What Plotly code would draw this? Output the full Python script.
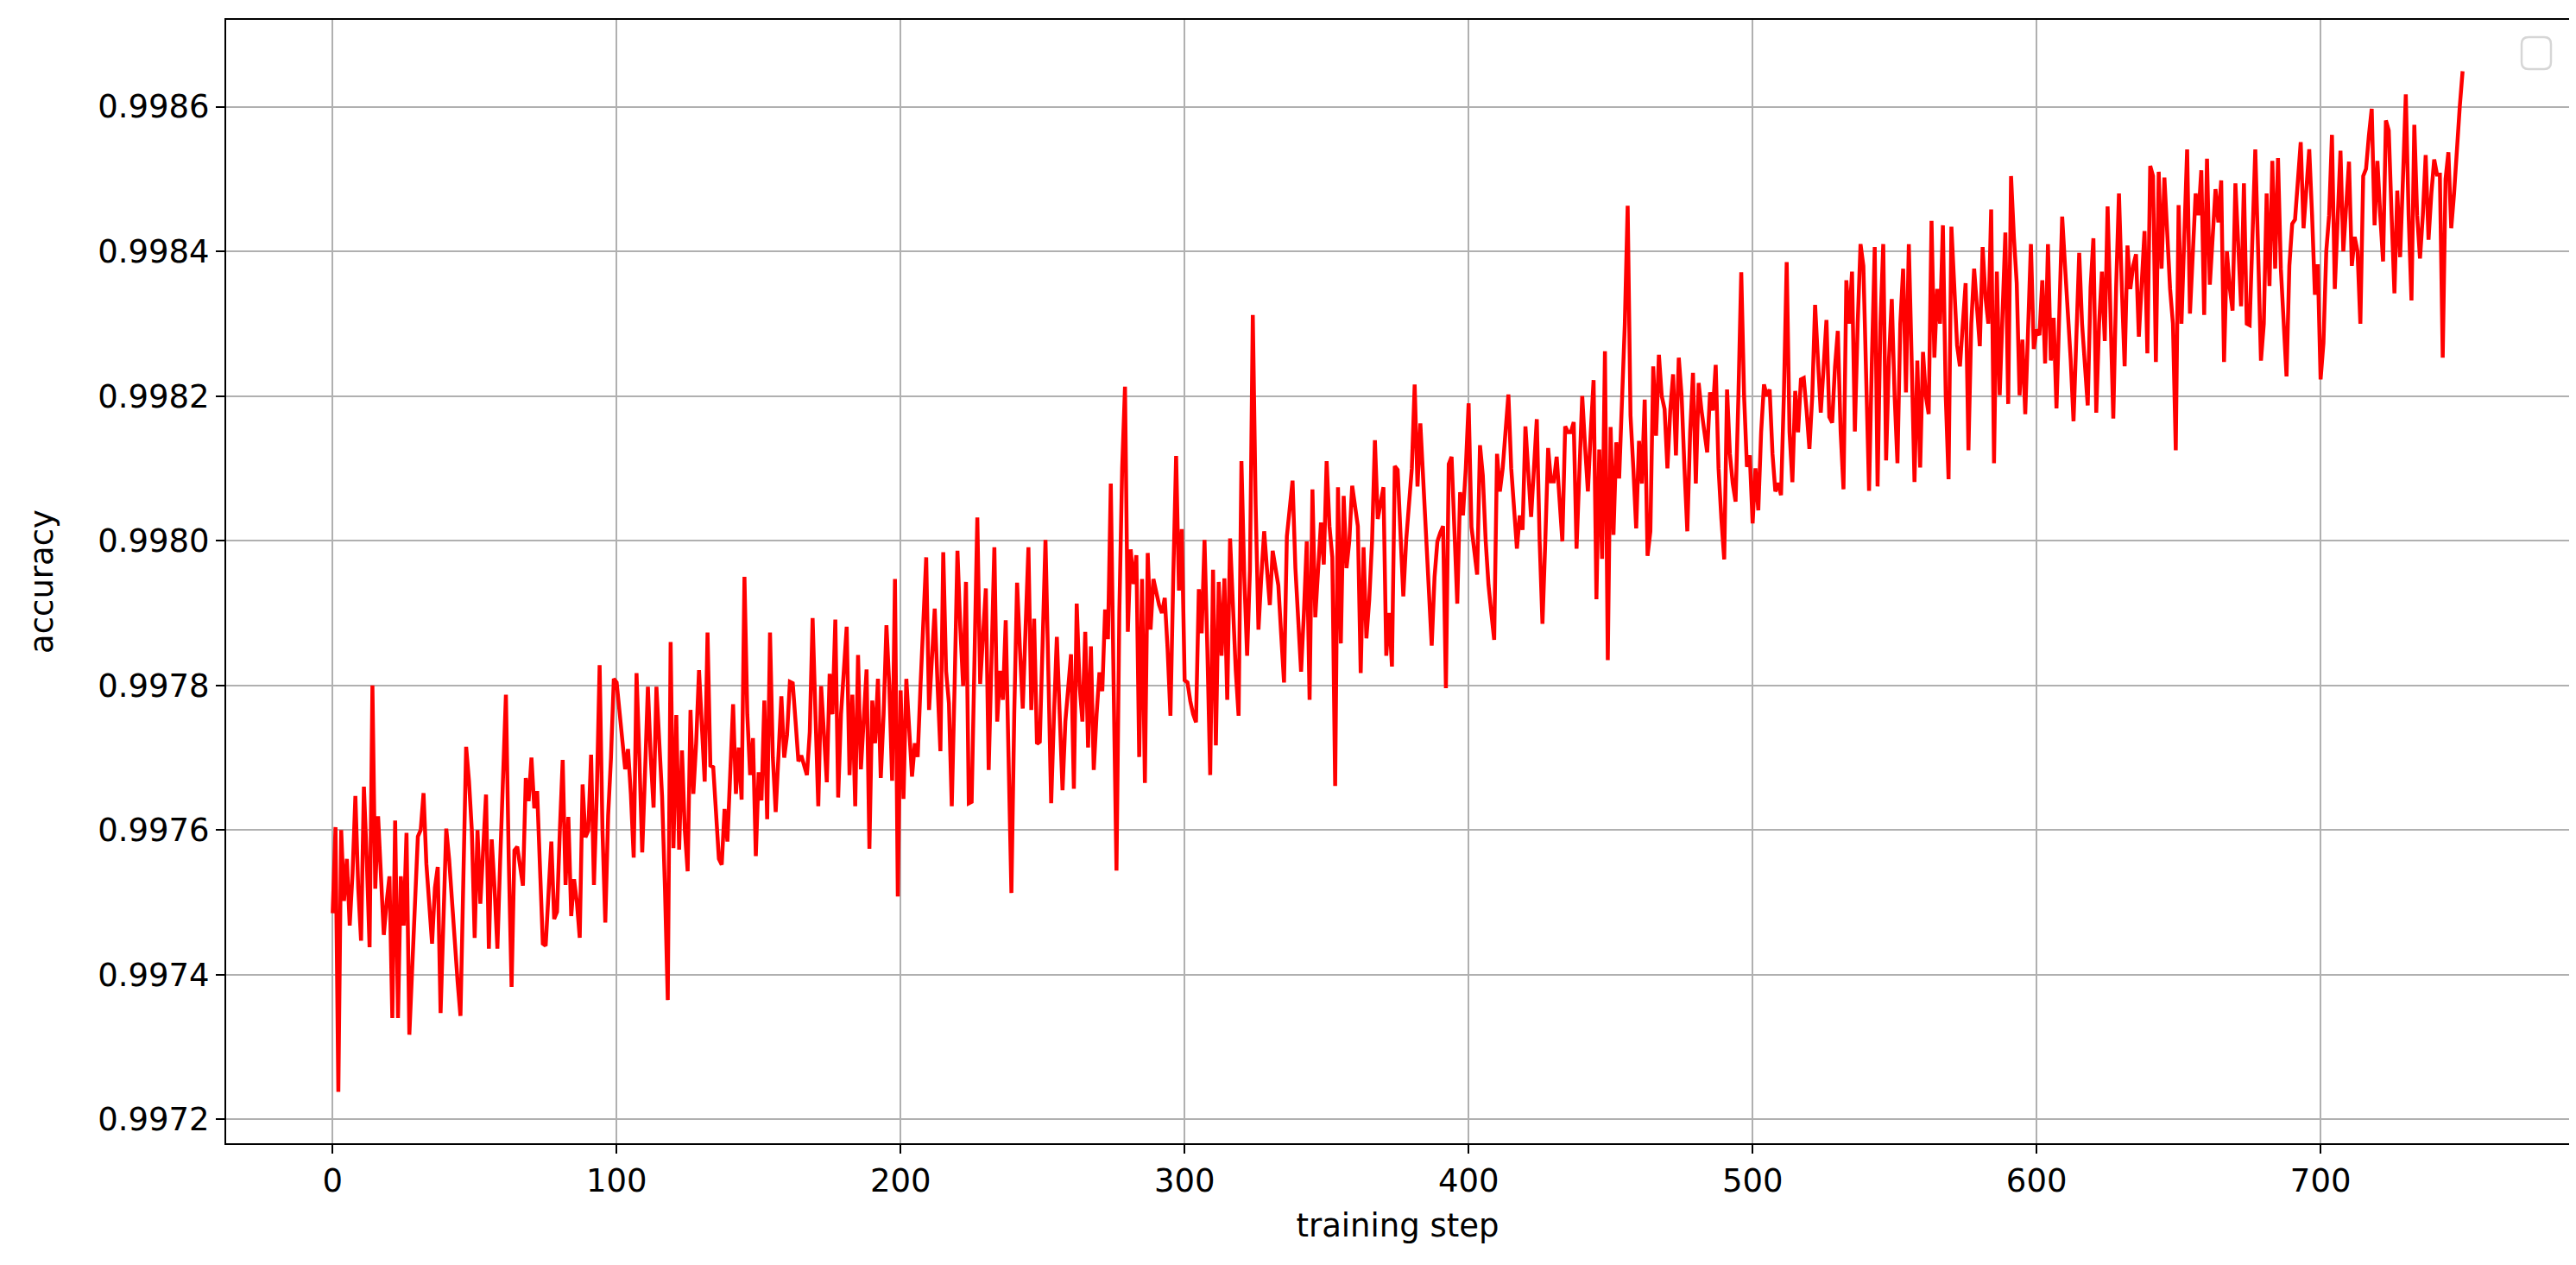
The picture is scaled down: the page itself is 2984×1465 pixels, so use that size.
import plotly.graph_objects as go

# accuracy per training step, split in consecutive parts
acc_part01 = [  # steps 0-71
    0.997485, 0.997604, 0.997238, 0.997600, 0.997502, 0.997560, 0.997468, 0.997540, 0.997647, 0.997520,
    0.997447, 0.997660, 0.997560, 0.997438, 0.997800, 0.997519, 0.997619, 0.997540, 0.997455, 0.997500,
    0.997536, 0.997340, 0.997613, 0.997340, 0.997536, 0.997468, 0.997596, 0.997317, 0.997420, 0.997520,
    0.997591, 0.997600, 0.997651, 0.997553, 0.997500, 0.997443, 0.997520, 0.997549, 0.997347, 0.997480,
    0.997602, 0.997560, 0.997500, 0.997440, 0.997390, 0.997343, 0.997560, 0.997715, 0.997668, 0.997600,
    0.997451, 0.997600, 0.997498, 0.997580, 0.997649, 0.997436, 0.997587, 0.997520, 0.997436, 0.997560,
    0.997660, 0.997787, 0.997560, 0.997383, 0.997572, 0.997577, 0.997550, 0.997523, 0.997672, 0.997640,
    0.997700, 0.997630,
]
acc_part02 = [  # steps 72-150
    0.997654, 0.997560, 0.997443, 0.997440, 0.997520, 0.997584, 0.997477, 0.997487, 0.997600, 0.997697,
    0.997524, 0.997618, 0.997481, 0.997532, 0.997500, 0.997451, 0.997663, 0.997590, 0.997599, 0.997704,
    0.997524, 0.997650, 0.997828, 0.997600, 0.997472, 0.997620, 0.997700, 0.997809, 0.997804, 0.997760,
    0.997727, 0.997684, 0.997712, 0.997650, 0.997562, 0.997817, 0.997700, 0.997569, 0.997680, 0.997798,
    0.997700, 0.997631, 0.997798, 0.997720, 0.997646, 0.997520, 0.997365, 0.997860, 0.997575, 0.997759,
    0.997573, 0.997710, 0.997600, 0.997543, 0.997766, 0.997650, 0.997720, 0.997821, 0.997740, 0.997667,
    0.997873, 0.997689, 0.997687, 0.997620, 0.997560, 0.997552, 0.997629, 0.997584, 0.997680, 0.997774,
    0.997650, 0.997714, 0.997642, 0.997950, 0.997760, 0.997676, 0.997727, 0.997564, 0.997680,
]
acc_part03 = [  # steps 151-224
    0.997641, 0.997779, 0.997615, 0.997873, 0.997700, 0.997625, 0.997720, 0.997785, 0.997700, 0.997732,
    0.997805, 0.997803, 0.997750, 0.997695, 0.997703, 0.997690, 0.997676, 0.997736, 0.997893, 0.997760,
    0.997633, 0.997799, 0.997720, 0.997666, 0.997816, 0.997760, 0.997891, 0.997645, 0.997760, 0.997830,
    0.997881, 0.997676, 0.997787, 0.997633, 0.997842, 0.997684, 0.997760, 0.997822, 0.997574, 0.997779,
    0.997720, 0.997809, 0.997672, 0.997760, 0.997883, 0.997800, 0.997668, 0.997947, 0.997508, 0.997793,
    0.997643, 0.997809, 0.997740, 0.997674, 0.997720, 0.997701, 0.997800, 0.997900, 0.997977, 0.997766,
    0.997850, 0.997906, 0.997800, 0.997709, 0.997984, 0.997820, 0.997775, 0.997633, 0.997800, 0.997986,
    0.997880, 0.997799, 0.997943, 0.997637,
]
acc_part04 = [  # steps 225-296
    0.997639, 0.997850, 0.998032, 0.997802, 0.997880, 0.997934, 0.997683, 0.997850, 0.997991, 0.997750,
    0.997820, 0.997780, 0.997890, 0.997700, 0.997513, 0.997760, 0.997942, 0.997850, 0.997768, 0.997880,
    0.997991, 0.997766, 0.997892, 0.997719, 0.997722, 0.997860, 0.998001, 0.997820, 0.997637, 0.997760,
    0.997867, 0.997760, 0.997655, 0.997750, 0.997800, 0.997843, 0.997657, 0.997913, 0.997800, 0.997750,
    0.997874, 0.997714, 0.997854, 0.997683, 0.997760, 0.997818, 0.997792, 0.997905, 0.997864, 0.998079,
    0.997800, 0.997544, 0.997900, 0.998100, 0.998213, 0.997874, 0.997988, 0.997940, 0.997980, 0.997701,
    0.997947, 0.997665, 0.997983, 0.997877, 0.997947, 0.997930, 0.997911, 0.997900, 0.997921, 0.997850,
    0.997758, 0.997950,
]
acc_part05 = [  # steps 297-374
    0.998117, 0.997931, 0.998016, 0.997807, 0.997804, 0.997778, 0.997760, 0.997749, 0.997933, 0.997872,
    0.998001, 0.997850, 0.997676, 0.997960, 0.997717, 0.997943, 0.997841, 0.997948, 0.997780, 0.998003,
    0.997900, 0.997820, 0.997758, 0.998110, 0.997950, 0.997841, 0.997960, 0.998312, 0.998050, 0.997877,
    0.997950, 0.998013, 0.997960, 0.997911, 0.997986, 0.997960, 0.997938, 0.997870, 0.997804, 0.998006,
    0.998050, 0.998083, 0.997962, 0.997900, 0.997819, 0.997900, 0.997999, 0.997780, 0.998071, 0.997894,
    0.997960, 0.998025, 0.997967, 0.998110, 0.998020, 0.997977, 0.997661, 0.998074, 0.997858, 0.998062,
    0.997962, 0.998000, 0.998076, 0.998050, 0.998020, 0.997817, 0.997991, 0.997865, 0.997918, 0.998000,
    0.998139, 0.998030, 0.998050, 0.998074, 0.997841, 0.997900, 0.997826, 0.998103,
]
acc_part06 = [  # steps 375-445
    0.998098, 0.998000, 0.997923, 0.998000, 0.998050, 0.998100, 0.998216, 0.998075, 0.998162, 0.998080,
    0.997995, 0.997930, 0.997855, 0.997950, 0.997999, 0.998011, 0.998020, 0.997796, 0.998106, 0.998116,
    0.998000, 0.997913, 0.998067, 0.998035, 0.998100, 0.998190, 0.998019, 0.997980, 0.997953, 0.998132,
    0.998090, 0.998000, 0.997939, 0.997900, 0.997863, 0.998120, 0.998068, 0.998100, 0.998150, 0.998202,
    0.998100, 0.998040, 0.997989, 0.998035, 0.998015, 0.998158, 0.998100, 0.998033, 0.998100, 0.998168,
    0.998000, 0.997885, 0.998000, 0.998128, 0.998082, 0.998082, 0.998116, 0.998050, 0.997999, 0.998158,
    0.998150, 0.998150, 0.998164, 0.997989, 0.998100, 0.998200, 0.998130, 0.998068, 0.998150, 0.998222,
    0.997919,
]
acc_part07 = [  # steps 446-526
    0.998126, 0.997975, 0.998262, 0.997835, 0.998157, 0.998008,
    0.998136, 0.998086, 0.998200, 0.998300, 0.998463, 0.998173, 0.998100, 0.998017, 0.998138, 0.998079,
    0.998195, 0.997979, 0.998013, 0.998241, 0.998145, 0.998257, 0.998200, 0.998182, 0.998100, 0.998180,
    0.998230, 0.998118, 0.998253, 0.998200, 0.998100, 0.998013, 0.998150, 0.998232, 0.998079, 0.998218,
    0.998180, 0.998154, 0.998122, 0.998205, 0.998180, 0.998243, 0.998100, 0.998030, 0.997974, 0.998209,
    0.998120, 0.998079, 0.998054, 0.998200, 0.998371, 0.998200, 0.998102, 0.998118, 0.998024, 0.998100,
    0.998042, 0.998150, 0.998216, 0.998200, 0.998209, 0.998120, 0.998068, 0.998080, 0.998063, 0.998200,
    0.998385, 0.998150, 0.998081, 0.998207, 0.998150, 0.998223, 0.998225, 0.998180, 0.998127, 0.998200,
    0.998326, 0.998250, 0.998177, 0.998240, 0.998305,
]
acc_part08 = [  # steps 527-600
    0.998171, 0.998163, 0.998240, 0.998290, 0.998150, 0.998071, 0.998360, 0.998300, 0.998372, 0.998151,
    0.998300, 0.998410, 0.998380, 0.998200, 0.998069, 0.998250, 0.998406, 0.998075, 0.998300, 0.998410,
    0.998111, 0.998250, 0.998334, 0.998200, 0.998107, 0.998300, 0.998376, 0.998205, 0.998410, 0.998250,
    0.998081, 0.998249, 0.998101, 0.998261, 0.998200, 0.998175, 0.998442, 0.998253, 0.998348, 0.998300,
    0.998436, 0.998200, 0.998085, 0.998434, 0.998350, 0.998270, 0.998241, 0.998300, 0.998356, 0.998125,
    0.998300, 0.998376, 0.998320, 0.998269, 0.998406, 0.998336, 0.998300, 0.998458, 0.998107, 0.998372,
    0.998201, 0.998300, 0.998426, 0.998189, 0.998504, 0.998420, 0.998356, 0.998201, 0.998278, 0.998175,
    0.998300, 0.998410, 0.998265, 0.998292,
]
acc_part09 = [  # steps 601-674
    0.998284, 0.998360, 0.998245, 0.998410, 0.998249, 0.998308, 0.998183, 0.998300, 0.998448, 0.998380,
    0.998324, 0.998250, 0.998165, 0.998300, 0.998398, 0.998300, 0.998250, 0.998187, 0.998350, 0.998418,
    0.998177, 0.998300, 0.998372, 0.998276, 0.998462, 0.998300, 0.998169, 0.998350, 0.998480, 0.998350,
    0.998241, 0.998408, 0.998348, 0.998380, 0.998396, 0.998282, 0.998350, 0.998428, 0.998259, 0.998518,
    0.998504, 0.998247, 0.998510, 0.998376, 0.998502, 0.998420, 0.998348, 0.998300, 0.998125, 0.998464,
    0.998300, 0.998420, 0.998541, 0.998314, 0.998400, 0.998480, 0.998450, 0.998512, 0.998312, 0.998528,
    0.998354, 0.998420, 0.998486, 0.998440, 0.998498, 0.998247, 0.998400, 0.998350, 0.998318, 0.998494,
    0.998400, 0.998324, 0.998494, 0.998300,
]
acc_part10 = [  # steps 675-750
    0.998298, 0.998420, 0.998541, 0.998400, 0.998249, 0.998300, 0.998480, 0.998352, 0.998525, 0.998376,
    0.998529, 0.998376, 0.998300, 0.998227, 0.998380, 0.998438, 0.998444, 0.998500, 0.998551, 0.998432,
    0.998480, 0.998541, 0.998450, 0.998340, 0.998382, 0.998223, 0.998273, 0.998400, 0.998450, 0.998561,
    0.998348, 0.998450, 0.998539, 0.998400, 0.998460, 0.998524, 0.998380, 0.998420, 0.998400, 0.998300,
    0.998504, 0.998514, 0.998560, 0.998597, 0.998436, 0.998525, 0.998450, 0.998386, 0.998581, 0.998567,
    0.998450, 0.998342, 0.998484, 0.998392, 0.998500, 0.998617, 0.998450, 0.998332, 0.998575, 0.998450,
    0.998390, 0.998450, 0.998533, 0.998416, 0.998480, 0.998527, 0.998506, 0.998506, 0.998253, 0.998500,
    0.998537, 0.998432, 0.998480, 0.998550, 0.998600, 0.998649,
]

x_tick_vals = [0, 100, 200, 300, 400, 500, 600, 700]
x_tick_text = ["0", "100", "200", "300", "400", "500", "600", "700"]
y_tick_vals = [0.9972, 0.9974, 0.9976, 0.9978, 0.9980, 0.9982, 0.9984, 0.9986]
y_tick_text = ["0.9972", "0.9974", "0.9976", "0.9978", "0.9980", "0.9982", "0.9984", "0.9986"]
x_label = "training step"
y_label = "accuracy"

accuracy = (acc_part01 + acc_part02 + acc_part03 + acc_part04 + acc_part05
            + acc_part06 + acc_part07 + acc_part08 + acc_part09 + acc_part10)
training_step = list(range(len(accuracy)))

W, H = 2984, 1465
ML, MR, MT, MB = 254, 16, 15, 149
FONT = "DejaVu Sans, Verdana, sans-serif"
FS = 37

fig = go.Figure()
fig.add_trace(go.Scatter(
    x=training_step, y=accuracy, mode="lines",
    line=dict(color="#ff0000", width=4.5),
    showlegend=False, hoverinfo="skip",
))

axis_common = dict(
    showgrid=True, gridcolor="#b0b0b0", gridwidth=2,
    showline=True, linecolor="black", linewidth=2, mirror=True,
    ticks="outside", ticklen=10, tickwidth=2, tickcolor="black",
    zeroline=False, tickfont=dict(family=FONT, size=FS, color="black"),
)
fig.update_xaxes(range=[-37.5, 787.5], tickmode="array", tickvals=x_tick_vals, ticktext=x_tick_text,
                 title=dict(text=x_label, font=dict(family=FONT, size=FS, color="black"), standoff=18),
                 **axis_common)
fig.update_yaxes(range=[0.997167, 0.998720], tickmode="array", tickvals=y_tick_vals, ticktext=y_tick_text,
                 title=dict(text=y_label, font=dict(family=FONT, size=FS, color="black"), standoff=40),
                 **axis_common)

# empty legend frame (top right), in plot-area (paper) coordinates
pw, ph = W - ML - MR, H - MT - MB
bx0, bx1 = (2913 - ML) / pw, (2947 - ML) / pw
by0, by1 = (H - MB - 72) / ph, (H - MB - 35) / ph
rx, ry = 8 / pw, 8 / ph
legend_path = (f"M {bx0+rx},{by1} L {bx1-rx},{by1} Q {bx1},{by1} {bx1},{by1-ry} "
               f"L {bx1},{by0+ry} Q {bx1},{by0} {bx1-rx},{by0} L {bx0+rx},{by0} "
               f"Q {bx0},{by0} {bx0},{by0+ry} L {bx0},{by1-ry} Q {bx0},{by1} {bx0+rx},{by1} Z")
fig.add_shape(type="path", path=legend_path, xref="paper", yref="paper",
              line=dict(color="#d6d6d6", width=2.5), fillcolor="white", layer="above")

fig.update_layout(
    width=W, height=H, autosize=False,
    margin=dict(l=ML, r=MR, t=MT, b=MB, pad=0),
    paper_bgcolor="white", plot_bgcolor="white",
    font=dict(family=FONT, size=FS, color="black"),
    showlegend=False,
)

fig.write_html("out.html", config={"displayModeBar": False})
